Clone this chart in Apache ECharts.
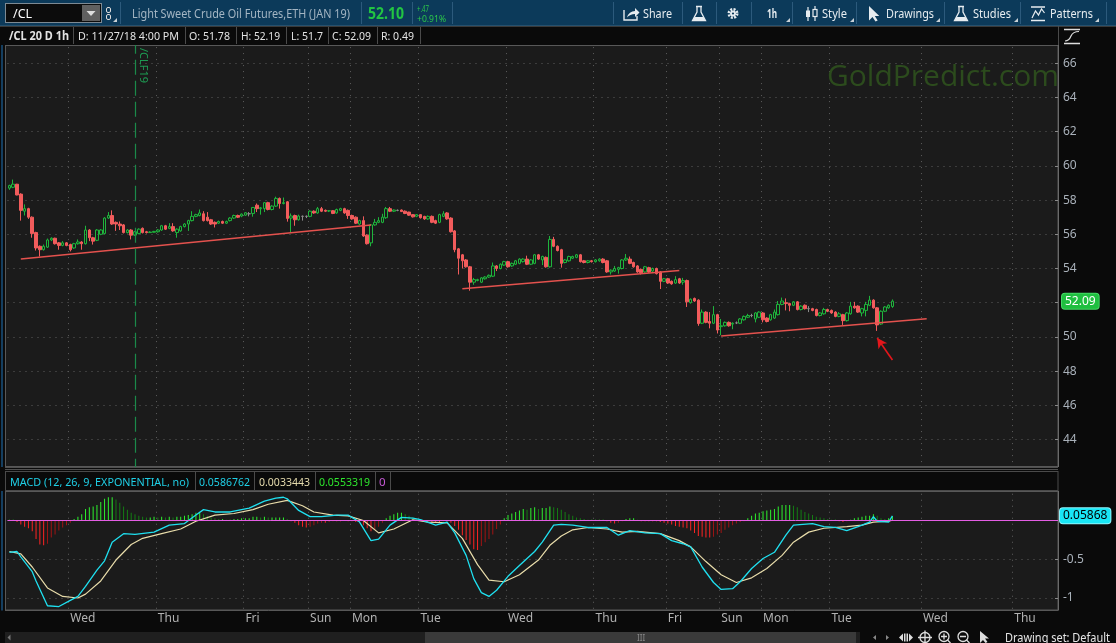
<!DOCTYPE html>
<html><head><meta charset="utf-8">
<script src="https://cdn.jsdelivr.net/npm/echarts@6/dist/echarts.min.js"></script>
<style>
html,body{margin:0;padding:0;width:1116px;height:643px;overflow:hidden;background:#0a0a0a;font-family:'Noto Sans','Open Sans',sans-serif;}
svg{position:absolute;left:0;top:0;}
#under{z-index:0;}
#chart{position:absolute;left:0;top:0;width:1116px;height:643px;z-index:1;}
#chrome{z-index:2;pointer-events:none;}
#chrome text{font-family:'Noto Sans','Open Sans',sans-serif;}
</style></head><body>
<svg id="under" width="1116" height="643">
  <rect x="0" y="0" width="1116" height="643" fill="#0a0a0a"/>
  <rect x="5.5" y="45.5" width="1052.5" height="421" fill="#1b1b1b" stroke="#585858"/>
  <rect x="5.5" y="491.5" width="1052.5" height="118.5" fill="#1b1b1b" stroke="#585858"/>
  <rect x="1" y="26" width="2" height="605" fill="#143e60"/>
</svg>
<div id="chart"></div>
<svg id="chrome" width="1116" height="643">
  <!-- toolbar -->
  <rect x="0" y="0" width="1116" height="26" fill="#0c3a5a"/>
  <rect x="0" y="25" width="1116" height="1" fill="#24506e"/>
  <rect x="5.5" y="3.5" width="96" height="19" fill="#0c0c0c" stroke="#7d8a94"/>
  <text x="13" y="17.5" fill="#ffffff" font-size="12.5">/CL</text>
  <rect x="82" y="5" width="18" height="16" fill="#606060"/>
  <path d="M86.5 11 L95.5 11 L91 16 Z" fill="#dddddd"/>
  <rect x="106.5" y="7.5" width="4" height="5" rx="1.5" fill="none" stroke="#dddddd"/>
  <rect x="106.5" y="14.5" width="4" height="5" rx="1.5" fill="none" stroke="#dddddd"/>
  <g stroke="#2c5a7c" stroke-width="1">
    <path d="M120.5 2 V24 M361.5 2 V24 M412.5 2 V24 M452.5 2 V24 M613.5 2 V24 M682.5 2 V24 M716.5 2 V24 M751.5 2 V24 M792.5 2 V24 M856.5 2 V24 M944.5 2 V24 M1020.5 2 V24 M1106.5 2 V24"/>
  </g>
  <text x="132" y="17.5" fill="#a3b5c3" font-size="12" textLength="218" lengthAdjust="spacingAndGlyphs">Light Sweet Crude Oil Futures,ETH (JAN 19)</text>
  <text x="368" y="18.5" fill="#22c443" font-size="15.5" font-weight="bold" textLength="36" lengthAdjust="spacingAndGlyphs">52.10</text>
  <text x="417" y="11.5" fill="#2cc84a" font-size="9.5" textLength="12" lengthAdjust="spacingAndGlyphs">+.47</text>
  <text x="417" y="21.5" fill="#2cc84a" font-size="9.5" textLength="29" lengthAdjust="spacingAndGlyphs">+0.91%</text>
  <g fill="#e6ecf0" stroke="none">
    <path d="M624 10 V20 H637 V16" fill="none" stroke="#e6ecf0" stroke-width="1.4"/>
    <path d="M627 17.5 Q629 11 635 11 V8 L639.5 12.5 L635 17 V14 Q630 14 627 17.5 Z"/>
    <text x="643" y="17.5" font-size="12" textLength="29" lengthAdjust="spacingAndGlyphs">Share</text>
    <path d="M696 6.5 H702 M697 6.5 V12 L692.5 20.5 H705.5 L701 12 V6.5" fill="none" stroke="#e6ecf0" stroke-width="1.3"/>
    <path d="M694.5 17 H703.5 L705 20 H693 Z"/>
    <circle cx="733" cy="13.5" r="4.2" fill="none" stroke="#e6ecf0" stroke-width="2.6" stroke-dasharray="2 1.3"/>
    <circle cx="733" cy="13.5" r="3"/>
    <circle cx="733" cy="13.5" r="1.1" fill="#0c3a5a"/>
    <text x="767" y="17.5" font-size="12" font-weight="bold" textLength="10" lengthAdjust="spacingAndGlyphs">1h</text>
    <path d="M808 7 V21 M815 6 V21" fill="none" stroke="#e6ecf0" stroke-width="1.2"/>
    <rect x="806" y="10.5" width="4" height="6.5"/>
    <rect x="813" y="9.5" width="4" height="7" fill="#0c3a5a" stroke="#e6ecf0" stroke-width="1.2"/>
    <text x="822" y="17.5" font-size="12" textLength="25" lengthAdjust="spacingAndGlyphs">Style</text>
    <path d="M869 6 L869 20.5 L872.5 17 L875.5 21.5 L877.7 20.4 L874.8 16 L879.3 16 Z"/>
    <text x="886" y="17.5" font-size="12" textLength="48" lengthAdjust="spacingAndGlyphs">Drawings</text>
    <path d="M958 6.5 H964 M959 6.5 V12 L954.5 20.5 H967.5 L963 12 V6.5" fill="none" stroke="#e6ecf0" stroke-width="1.3"/>
    <path d="M956.5 17 H965.5 L967 20 H955 Z"/>
    <text x="973" y="17.5" font-size="12" textLength="38" lengthAdjust="spacingAndGlyphs">Studies</text>
    <path d="M1031 7 H1045 M1031 20.5 H1045" fill="none" stroke="#e6ecf0" stroke-width="1.5"/>
    <path d="M1032 18 L1035.5 11 L1038.5 15 L1041.5 9 L1044.5 13" fill="none" stroke="#e6ecf0" stroke-width="1.2"/>
    <text x="1050" y="17.5" font-size="12" textLength="43" lengthAdjust="spacingAndGlyphs">Patterns</text>
    <path d="M113 22 H117 V18 Z M786 22 H790 V18 Z M850 22 H854 V18 Z M936 22 H940 V18 Z M1014 22 H1018 V18 Z M1095 22 H1099 V18 Z" fill="#c8d0d6"/>
  </g>
  <!-- info bar -->
  <rect x="0" y="26" width="1116" height="19" fill="#0a0a0a"/>
  <path d="M0 26.5 H1116" stroke="#3a3a3a"/>
  <path d="M73.5 27 V44 M185.5 27 V44 M236.5 27 V44 M286.5 27 V44 M328.5 27 V44 M377.5 27 V44 M420.5 27 V44 M1058.5 26 V45" stroke="#4a4a4a"/>
  <g fill="#e3e3e3" font-size="11.5">
    <text x="9" y="39.5" font-weight="bold" textLength="60" lengthAdjust="spacingAndGlyphs">/CL 20 D 1h</text>
    <text x="78" y="39.5" textLength="101" lengthAdjust="spacingAndGlyphs">D: 11/27/18 4:00 PM</text>
    <text x="189" y="39.5" textLength="41" lengthAdjust="spacingAndGlyphs">O: 51.78</text>
    <text x="241" y="39.5" textLength="39" lengthAdjust="spacingAndGlyphs">H: 52.19</text>
    <text x="291" y="39.5" textLength="32" lengthAdjust="spacingAndGlyphs">L: 51.7</text>
    <text x="332" y="39.5" textLength="39" lengthAdjust="spacingAndGlyphs">C: 52.09</text>
    <text x="381" y="39.5" textLength="33" lengthAdjust="spacingAndGlyphs">R: 0.49</text>
  </g>
  <path d="M1064 29.5 H1080 M1064 43.5 H1080" stroke="#dddddd" stroke-width="1.5"/>
  <path d="M1065 41 Q1069 41 1071 36 Q1073 31.5 1079 31.5" stroke="#dddddd" fill="none" stroke-width="1.2"/>
  <!-- separator + MACD header -->
  <rect x="0" y="467" width="1116" height="24" fill="#0a0a0a"/>
  <path d="M5 467.5 H1058 M5 469.5 H1058" stroke="#505050"/>
  <rect x="5.5" y="471.5" width="1052.5" height="19" fill="#0a0a0a" stroke="#4a4a4a"/>
  <path d="M195.5 472 V490 M254.5 472 V490 M315.5 472 V490 M375.5 472 V490 M390.5 472 V490" stroke="#4a4a4a"/>
  <g font-size="11.5">
    <text x="10" y="485.5" fill="#1fcfe6" textLength="179" lengthAdjust="spacingAndGlyphs">MACD (12, 26, 9, EXPONENTIAL, no)</text>
    <text x="199" y="485.5" fill="#1fcfe6" textLength="51" lengthAdjust="spacingAndGlyphs">0.0586762</text>
    <text x="259" y="485.5" fill="#e6dcae" textLength="51" lengthAdjust="spacingAndGlyphs">0.0033443</text>
    <text x="319" y="485.5" fill="#2ee82e" textLength="51" lengthAdjust="spacingAndGlyphs">0.0553319</text>
    <text x="379" y="485.5" fill="#c85ad8">0</text>
  </g>
  <!-- bottom bar -->
  <rect x="0" y="631" width="1116" height="12" fill="#0a0a0a"/>
  <rect x="5" y="632" width="855" height="11" fill="#1f1f1f"/>
  <rect x="425" y="632" width="431" height="11" fill="#3a3a3a"/>
  <text x="637" y="641" font-size="8" fill="#8a8a8a">III</text>
  <path d="M10.5 634.5 L7.5 637.5 L10.5 640.5 Z" fill="#777777"/>
  <path d="M876 635 L873 637.5 L876 640 Z M886 635 L889 637.5 L886 640 Z" fill="#888888"/>
  <g fill="#dddddd" stroke="none">
    <path d="M899 637.5 L903 633.5 V641.5 Z M913 637.5 L909 633.5 V641.5 Z"/>
    <rect x="904" y="633.5" width="1.5" height="8"/><rect x="906.5" y="633.5" width="1.5" height="8"/>
  </g>
  <g fill="none" stroke="#dddddd" stroke-width="1.3">
    <circle cx="925" cy="637.5" r="5"/><path d="M918 637.5 H932 M925 630.5 V643"/>
    <circle cx="944" cy="636.5" r="5"/><path d="M941 636.5 H947 M944 633.5 V639.5 M947.5 640 L950.5 643"/>
    <circle cx="963" cy="636.5" r="5"/><path d="M960 636.5 H966 M966.5 640 L969.5 643"/>
  </g>
  <path d="M980 631 L980 643 L983 640 L985.5 643 L987.5 642 L985 638.5 L989 638.5 Z" fill="#dddddd"/>
  <text x="1005" y="641.5" font-size="12" fill="#e6e6e6" textLength="105" lengthAdjust="spacingAndGlyphs">Drawing set: Default</text>
</svg>
<script>
// ---------- DATA ----------
// hourly candles: [open, close, low, high], slot index = position in array
const ohlc = [
[58.70,58.85,58.60,58.90],[58.75,58.93,58.70,59.20],[58.93,58.30,58.28,58.95],[58.35,57.40,56.80,58.40],[57.35,57.50,57.10,57.75],
[57.50,57.00,56.90,57.55],[57.00,56.05,55.80,57.05],[56.10,55.20,55.05,56.15],[55.30,55.10,54.70,55.35],[55.10,55.30,55.05,55.40],
[55.25,55.67,55.20,55.75],[55.67,55.77,55.60,55.82],[55.77,55.45,55.40,55.80],[55.50,55.35,55.10,55.55],[55.35,55.50,55.30,55.60],
[55.50,55.35,55.30,55.55],[55.40,55.10,55.00,55.45],[55.20,55.45,55.15,55.50],[55.45,55.55,55.40,55.70],[55.55,55.45,55.10,55.60],
[55.45,56.25,55.40,56.50],[56.25,55.80,55.60,56.30],[55.80,55.60,55.40,55.85],[55.65,56.25,55.60,56.30],[56.00,56.25,55.95,56.30],
[56.05,56.95,56.00,57.00],[56.95,57.10,56.90,57.30],[57.10,56.60,56.55,57.40],[56.70,56.60,56.20,56.75],[56.60,56.50,56.25,56.75],
[56.55,56.10,56.05,56.60],[56.10,56.25,56.05,56.30],[56.25,55.95,55.70,56.30],[55.95,56.15,55.90,56.20],[56.05,56.30,56.00,56.35],
[56.35,56.10,56.05,56.40],[56.15,56.10,56.05,56.20],[56.10,56.13,56.08,56.18],[56.12,56.17,56.10,56.20],[56.15,56.25,56.10,56.30],
[56.25,56.50,56.20,56.55],[56.50,56.30,56.25,56.55],[56.35,56.45,56.30,56.65],[56.45,56.20,56.15,56.65],[56.10,56.30,55.80,56.35],
[56.20,56.45,56.15,56.50],[56.45,56.60,56.40,56.65],[56.60,56.80,56.20,56.85],[56.80,57.05,56.75,57.35],[57.05,57.15,57.00,57.20],
[57.10,57.25,57.05,57.45],[57.20,56.80,56.75,57.35],[57.00,56.80,56.75,57.30],[56.85,56.60,56.55,56.90],[56.70,56.60,56.40,56.75],
[56.65,56.75,56.60,56.80],[56.75,56.65,56.60,56.80],[56.65,56.75,56.60,56.80],[56.80,56.95,56.75,57.00],[56.95,57.10,56.90,57.15],
[57.10,57.00,56.95,57.15],[57.07,57.18,57.00,57.22],[57.12,57.26,57.08,57.30],[57.20,57.20,57.05,57.30],[57.22,57.57,57.03,57.60],
[57.70,57.50,57.30,57.80],[57.50,57.55,57.15,57.60],[57.50,57.85,57.30,57.88],[57.85,57.45,57.40,57.90],[57.45,57.65,57.40,57.70],
[57.65,58.10,57.60,58.20],[58.10,57.80,57.50,58.15],[57.80,57.85,57.75,58.15],[57.90,56.93,56.74,57.95],[56.95,57.07,56.10,57.22],
[57.10,56.85,56.50,57.15],[56.85,57.07,56.80,57.15],[57.05,57.05,56.80,57.10],[57.05,57.05,56.95,57.10],[57.05,57.35,57.00,57.40],
[57.35,57.25,57.20,57.40],[57.25,57.50,57.20,57.60],[57.50,57.35,57.30,57.60],[57.40,57.35,57.30,57.45],[57.36,57.38,57.30,57.42],
[57.38,57.22,57.18,57.42],[57.25,57.45,57.20,57.50],[57.40,57.50,57.35,57.55],[57.50,57.25,57.20,57.55],[57.40,57.10,56.90,57.45],
[57.10,56.90,56.85,57.15],[57.00,56.65,56.60,57.05],[56.60,56.80,56.55,56.85],[56.80,55.90,55.85,57.05],[55.95,55.45,55.40,56.00],
[55.50,56.55,55.30,56.60],[56.55,56.70,56.50,56.90],[56.70,56.80,56.65,57.00],[56.70,57.00,56.65,57.20],[56.97,57.50,56.90,57.60],
[57.50,57.35,57.30,57.60],[57.35,57.42,57.30,57.45],[57.40,57.40,57.35,57.45],[57.42,57.33,57.30,57.45],[57.35,57.22,57.18,57.40],
[57.30,57.12,57.08,57.32],[57.15,57.02,56.98,57.18],[57.05,57.15,57.00,57.18],[57.15,56.97,56.92,57.18],[57.05,56.90,56.85,57.08],
[56.90,57.05,56.85,57.10],[57.05,56.70,56.65,57.10],[56.80,56.65,56.60,56.85],[56.70,57.15,56.65,57.20],[57.05,57.20,57.00,57.35],
[57.25,56.90,56.85,57.30],[56.95,56.15,56.10,57.00],[56.20,55.10,54.95,56.25],[55.15,54.60,53.65,55.20],[54.80,54.45,54.00,54.85],
[54.50,54.10,54.05,54.55],[54.10,53.20,52.70,54.15],[53.20,53.35,53.05,53.45],[53.30,53.35,53.25,53.40],[53.20,53.45,53.15,53.50],
[53.40,53.50,53.35,53.55],[53.50,53.60,53.45,53.65],[53.55,54.15,53.50,54.35],[54.15,54.00,53.85,54.20],[54.00,54.25,53.95,54.30],
[54.20,54.40,54.15,54.45],[54.40,54.10,54.05,54.45],[54.15,54.30,54.10,54.35],[54.25,54.45,54.20,54.50],[54.30,54.55,54.25,54.60],
[54.40,54.55,54.35,54.60],[54.55,54.25,54.20,54.75],[54.25,54.50,54.20,54.55],[54.30,54.80,54.25,54.85],[54.80,54.55,54.50,54.85],
[54.50,54.70,54.20,54.75],[54.65,54.10,54.05,54.70],[54.10,55.70,54.05,55.90],[55.70,55.30,55.25,55.85],[55.30,55.05,55.00,55.35],
[55.10,54.30,54.05,55.15],[54.35,54.50,54.30,54.55],[54.45,54.70,54.40,54.75],[54.60,54.70,54.55,54.75],[54.65,54.80,54.60,54.85],
[54.80,54.40,54.35,54.85],[54.45,54.35,54.30,54.50],[54.35,54.45,54.30,54.50],[54.45,54.40,54.35,54.50],[54.40,54.50,54.35,54.55],
[54.45,54.55,54.40,54.60],[54.55,54.35,54.30,54.60],[54.45,53.80,53.75,54.50],[53.80,53.90,53.65,53.95],[53.85,54.00,53.80,54.15],
[53.95,54.05,53.70,54.10],[54.00,54.50,53.95,54.55],[54.50,54.60,54.45,54.85],[54.55,54.30,54.25,54.70],[54.35,54.10,54.05,54.40],
[54.15,53.80,53.75,54.20],[53.95,53.75,53.65,54.00],[53.80,54.10,53.75,54.15],[54.05,53.80,53.75,54.10],[53.85,54.00,53.80,54.05],
[54.00,53.70,53.65,54.05],[53.80,53.25,52.80,53.85],[53.25,53.40,53.20,53.45],[53.40,53.15,53.10,53.45],[53.25,53.10,53.05,53.30],
[53.15,53.35,53.10,53.55],[53.40,53.15,53.10,53.45],[53.20,53.30,53.05,53.45],[53.30,52.05,51.75,53.35],[52.00,52.20,51.95,52.25],
[52.25,52.10,52.05,52.30],[52.15,50.78,50.65,52.20],[50.80,51.45,50.75,51.60],[51.45,50.85,50.80,51.50],[50.90,50.80,50.50,51.45],
[50.80,51.30,50.75,51.80],[51.30,50.40,50.20,51.35],[50.60,50.65,50.10,51.05],[50.65,50.85,50.60,50.90],[50.85,50.65,50.60,50.90],
[50.75,50.80,50.45,50.85],[50.82,50.82,50.75,50.90],[50.80,51.05,50.75,51.10],[51.00,51.20,50.95,51.25],[51.15,51.25,51.10,51.35],
[51.25,51.25,51.15,51.35],[51.05,51.40,50.85,51.45],[51.15,51.45,51.10,51.50],[51.40,51.00,50.85,51.45],[51.10,50.90,50.85,51.15],
[51.00,51.30,50.95,51.35],[51.10,51.45,51.05,51.60],[51.30,51.90,51.25,52.10],[51.90,52.10,51.85,52.30],[52.00,51.95,51.55,52.25],
[51.95,51.85,51.50,52.00],[51.85,52.05,51.80,52.10],[52.05,51.60,51.55,52.10],[51.60,51.80,51.55,51.85],[51.85,51.65,51.60,51.90],
[51.65,51.65,51.45,51.80],[51.65,51.55,51.50,51.70],[51.60,51.25,51.20,51.65],[51.25,51.40,51.20,51.45],[51.35,51.60,51.30,51.70],
[51.60,51.50,51.45,51.65],[51.55,51.40,51.35,51.60],[51.45,51.20,51.15,51.50],[51.20,51.35,51.15,51.45],[51.30,50.95,50.70,51.35],
[50.95,51.40,50.90,51.45],[51.35,51.80,51.30,52.05],[51.80,51.70,51.65,52.05],[51.80,51.45,51.40,51.85],[51.40,51.65,51.20,51.70],
[51.55,51.90,51.20,52.05],[51.85,52.15,51.80,52.40],[52.15,51.70,51.65,52.20],[51.70,50.70,50.35,51.75],[50.75,51.50,50.70,51.55],
[51.50,51.75,51.45,51.80],[51.70,51.85,51.65,51.90],[51.78,52.09,51.70,52.19]
];
// MACD histogram (Diff) per candle
const macdHist = [
 0.01, 0.01,-0.02,-0.05,-0.08,-0.10,-0.14,-0.24,-0.31,-0.32,
-0.30,-0.22,-0.18,-0.13,-0.09,-0.06,-0.03, 0.02, 0.05, 0.08,
 0.15, 0.17, 0.18, 0.20, 0.24, 0.28, 0.30, 0.30, 0.27, 0.23,
 0.18, 0.14, 0.10, 0.08, 0.06, 0.05, 0.04, 0.04, 0.05, 0.04,
 0.05, 0.04, 0.05, 0.04, 0.05, 0.05, 0.06, 0.07, 0.08, 0.10,
 0.10, 0.08, 0.06, 0.04, 0.03, 0.02, 0.02, 0.01, 0.01, 0.02,
 0.02, 0.03, 0.03, 0.03, 0.05, 0.05, 0.04, 0.05, 0.04, 0.04,
 0.04, 0.04, 0.04, 0.02,-0.01,-0.03,-0.06,-0.08,-0.09,-0.08,
-0.06,-0.04,-0.03,-0.03,-0.02,-0.01,-0.01,-0.01, 0.00,-0.01,
-0.01,-0.02,-0.03,-0.06,-0.10,-0.14,-0.12,-0.08,-0.03, 0.03,
 0.06, 0.08, 0.10, 0.10, 0.08, 0.06, 0.04, 0.02, 0.01,-0.01,
-0.01,-0.02,-0.02,-0.02,-0.01,-0.01,-0.03,-0.07,-0.12,-0.19,
-0.25,-0.31,-0.37,-0.38,-0.33,-0.28,-0.24,-0.18,-0.11,-0.05,
 0.03, 0.07, 0.09, 0.11, 0.13, 0.15, 0.14, 0.16, 0.17, 0.15,
 0.16, 0.16, 0.18, 0.17, 0.16, 0.14, 0.11, 0.08, 0.06, 0.04,
 0.03, 0.02, 0.01, 0.01, 0.01, 0.01, 0.01,-0.01,-0.03,-0.04,
-0.03,-0.01, 0.02, 0.03, 0.03, 0.01,-0.01,-0.01,-0.01,-0.01,
-0.01,-0.02,-0.03,-0.04,-0.05,-0.07,-0.08,-0.09,-0.10,-0.13,
-0.16,-0.20,-0.21,-0.22,-0.22,-0.21,-0.18,-0.16,-0.12,-0.09,
-0.06,-0.04,-0.02,-0.01, 0.03, 0.06, 0.09, 0.10, 0.12, 0.13,
 0.14, 0.15, 0.18, 0.20, 0.20, 0.20, 0.19, 0.17, 0.14, 0.11,
 0.09, 0.07, 0.05, 0.04, 0.03, 0.02, 0.01, 0.01,-0.01,-0.02,
-0.01, 0.01, 0.03, 0.04, 0.05, 0.06, 0.06, 0.08, 0.06, 0.03,
 0.02, 0.03, 0.055
];
// MACD value line, read at [slot, value]
const macdLine = [[0,-0.41],[2,-0.40],[3,-0.47],[6,-0.66],[7,-0.78],[10,-1.10],[13,-1.11],[16,-1.03],[18,-0.98],[20,-0.85],[23,-0.64],[25,-0.52],[27,-0.28],[30,-0.17],[33,-0.18],[38,-0.15],[42,-0.06],[46,-0.04],[49,0.07],[51,0.14],[54,0.11],[58,0.11],[63,0.16],[67,0.25],[70,0.29],[72,0.30],[73,0.28],[76,0.13],[79,0.05],[82,0.05],[86,0.07],[89,0.07],[92,-0.02],[95,-0.26],[97,-0.24],[100,-0.06],[103,0.04],[106,0.03],[108,0.01],[112,-0.06],[115,-0.02],[117,-0.16],[120,-0.45],[122,-0.75],[124,-0.93],[126,-0.98],[128,-0.90],[131,-0.72],[134,-0.58],[138,-0.40],[140,-0.28],[143,-0.06],[145,-0.05],[148,-0.06],[152,-0.09],[157,-0.09],[160,-0.19],[163,-0.13],[167,-0.16],[171,-0.17],[174,-0.26],[177,-0.30],[179,-0.34],[182,-0.60],[185,-0.80],[187,-0.89],[190,-0.88],[192,-0.79],[195,-0.62],[198,-0.49],[201,-0.41],[204,-0.19],[206,-0.06],[211,-0.04],[214,-0.08],[217,-0.09],[220,-0.13],[223,-0.08],[226,-0.02],[227,0.05],[228,-0.01],[231,-0.02],[232,0.0587]];
// MACD average (signal) line
const macdAvg = [[0,-0.40],[3,-0.43],[6,-0.60],[10,-0.87],[14,-0.98],[18,-1.00],[20,-0.95],[24,-0.78],[28,-0.51],[32,-0.31],[35,-0.23],[40,-0.17],[45,-0.11],[49,-0.01],[54,0.07],[59,0.09],[64,0.14],[68,0.21],[73,0.26],[77,0.19],[80,0.11],[85,0.07],[89,0.06],[93,0.00],[97,-0.16],[101,-0.11],[106,0.01],[110,-0.02],[115,-0.03],[119,-0.23],[123,-0.57],[126,-0.77],[130,-0.79],[134,-0.70],[139,-0.51],[142,-0.32],[145,-0.20],[148,-0.12],[152,-0.09],[157,-0.11],[161,-0.15],[165,-0.14],[171,-0.17],[176,-0.26],[179,-0.34],[183,-0.53],[187,-0.70],[191,-0.80],[195,-0.74],[199,-0.62],[203,-0.45],[206,-0.28],[210,-0.15],[214,-0.10],[220,-0.08],[224,-0.06],[227,-0.02],[231,-0.01],[232,0.0033]];
// session (day) starts on the hourly slot axis
const sessionIdx   = [16,39,62,79,90,108,131,154,173,187,198,216,240,264];
const sessionNames = ['Wed','Thu','Fri','Sun','Mon','Tue','Wed','Thu','Fri','Sun','Mon','Tue','Wed','Thu'];
const slotCount = 276;
// drawn support lines: [[slot, price],[slot, price]]
const trendLines = [[[3,54.56],[95,56.54]],[[119,52.81],[176,53.88]],[[187,50.05],[241,51.06]]];
const arrowLine = [[232,48.65],[228,49.94]];
const expirySlot = 33, expiryLabel = '/CLF19';
const lastClose = 52.09, lastMacd = 0.05868;
const priceMin = 42, priceMax = 68, priceStep = 2;
const macdMin = -1.5, macdMax = 0.5, macdStep = 0.5;

// ---------- CHART ----------
const chart = echarts.init(document.getElementById('chart'), null, {renderer:'canvas'});
const slots = Array.from({length: slotCount}, (_, i) => String(i));
const sessionMap = new Map(sessionIdx.map((v, k) => [v, sessionNames[k]]));
const isSession = (i) => sessionMap.has(i);
const dotted = {color:'#5e5e5e', width:1, type:[1,5]};
const FONT = 'Noto Sans';
const HIDDEN_LINE = {color:'rgba(0,0,0,0)', width:1, type:'solid'};

const histData = macdHist.map((v, i) => {
  const p = i > 0 ? macdHist[i-1] : v;
  let c;
  if (v >= 0) c = v >= p ? '#2ef02e' : '#147d14';
  else c = v <= p ? '#ff2424' : '#a01414';
  return {value: v, itemStyle: {color: c}};
});

const gridBase = {left: 7.5, width: 1050.5, outerBoundsMode: 'none', containLabel: false};
function slotAxis(gi, labels) {
  return {
    type:'category', gridIndex: gi, data: slots, boundaryGap: true,
    axisLine:{show:false}, axisTick:{show:false},
    axisLabel: labels ? {show:true, interval:(i)=>isSession(i), formatter:(v)=>sessionMap.get(Number(v)) || '',
                         color:'#b2b2b2', fontSize:12, fontFamily:FONT, align:'left', margin:3} : {show:false},
    splitLine: labels ? {show:false} : {show:true, interval:(i)=>isSession(i), lineStyle: dotted},
    z: labels ? 110 : 0
  };
}

const trendData = trendLines.map(t => [
  {coord: t[0], symbol:'none', lineStyle:{color:'#e4524e', width:1.5, type:'solid'}, label:{show:false}},
  {coord: t[1], symbol:'none'}
]);

chart.setOption({
  animation: false,
  textStyle: {fontFamily: FONT},
  grid: [
    Object.assign({top: 29.1, height: 444.6}, gridBase),
    Object.assign({top: 481.75, height: 155}, gridBase),
    Object.assign({top: 608, height: 2}, gridBase)
  ],
  xAxis: [slotAxis(0,false), slotAxis(1,false), slotAxis(2,true)],
  yAxis: [
    {type:'value', gridIndex:0, position:'right', min:priceMin, max:priceMax, interval:priceStep,
     axisLine:{show:true, lineStyle:{color:'#6a6a6a'}}, axisTick:{show:true, inside:true, length:3, lineStyle:{color:'#8a8a8a'}},
     axisLabel:{color:'#a9b1ba', fontSize:12, margin:5, fontFamily:FONT}, splitLine:{show:true, lineStyle:dotted}},
    {type:'value', gridIndex:1, position:'right', min:macdMin, max:macdMax, interval:macdStep,
     axisLine:{show:true, lineStyle:{color:'#6a6a6a'}}, axisTick:{show:true, inside:true, length:3, lineStyle:{color:'#8a8a8a'}},
     axisLabel:{color:'#a9b1ba', fontSize:12, margin:5, fontFamily:FONT, formatter:(v)=> String(Math.round(v*10)/10)},
     splitLine:{show:true, lineStyle:dotted}},
    {type:'value', gridIndex:2, show:false}
  ],
  series: [
    {
      type:'candlestick', xAxisIndex:0, yAxisIndex:0, barWidth:3,
      data: ohlc,
      itemStyle:{color:'rgba(0,0,0,0)', color0:'#f25c5c', borderColor:'#1eb53c', borderColor0:'#f25c5c', borderColorDoji:'#8c8c8c', borderWidth:1},
      silent: true,
      markLine: {
        silent:true, symbol:['none','none'], animation:false,
        data: [
          ...trendData,
          [{coord: arrowLine[0], symbol:'none', lineStyle:{color:'#e4161b', width:1.6, type:'solid'}, label:{show:false}},
           {coord: arrowLine[1], symbol:'arrow', symbolSize:[8,10]}],
          {xAxis: expirySlot, lineStyle:{color:'#1b8a4a', width:1.2, type:[15,6]}, label:{show:false}}
        ]
      }
    },
    {
      type:'bar', xAxisIndex:1, yAxisIndex:1, barWidth:1, data: histData, silent:true,
      markLine: {silent:true, symbol:['none','none'], animation:false,
        data:[{yAxis:0, lineStyle:{color:'#e35de3', width:1, type:'solid'}, label:{show:false}}]}
    },
    {
      type:'line', xAxisIndex:1, yAxisIndex:1, data: macdAvg, showSymbol:false, silent:true,
      lineStyle:{color:'#e8dcaa', width:1.2}, z:3
    },
    {
      type:'line', xAxisIndex:1, yAxisIndex:1, data: macdLine, showSymbol:false, silent:true,
      lineStyle:{color:'#1fe0f0', width:1.3}, z:4
    },
    // last-value flags on the right axis (invisible lines carrying the labels)
    {
      type:'line', xAxisIndex:0, yAxisIndex:0, data: [], silent:true, z:20, clip:false,
      markLine: {silent:true, symbol:['none','none'], animation:false,
        data:[{yAxis: lastClose, lineStyle: HIDDEN_LINE, label:{show:true, position:'end', distance:4, formatter: lastClose.toFixed(2),
            color:'#ffffff', backgroundColor:'#1fbf40', borderColor:'#45d865', borderWidth:1, borderRadius:3, padding:[2,3,1,3], fontSize:12, fontFamily:FONT}}]}
    },
    {
      type:'line', xAxisIndex:1, yAxisIndex:1, data: [], silent:true, z:20, clip:false,
      markLine: {silent:true, symbol:['none','none'], animation:false,
        data:[{yAxis:lastMacd, lineStyle: HIDDEN_LINE, label:{show:true, position:'end', distance:2, formatter: lastMacd.toFixed(5),
          color:'#000000', backgroundColor:'#19e6f5', borderColor:'#8ff4fb', borderWidth:1, borderRadius:3, padding:[2,3,1,3], fontSize:12, fontFamily:FONT}}]}
    }
  ]
});

const ep = chart.convertToPixel({xAxisIndex:0, yAxisIndex:0}, [expirySlot, 66.9]);
chart.setOption({
  graphic: {elements: [
    {type:'text', x:1059, y:77, z:1, silent:true,
     style:{text:'GoldPredict.com', fill:'#2c4b1d', font:'30px "Open Sans"', align:'right', verticalAlign:'middle'}},
    {type:'text', x: ep[0] + 3, y: ep[1], rotation: -Math.PI/2, z:5, silent:true,
     style:{text: expiryLabel, fill:'#1e9a52', font:'11px "Noto Sans"', align:'left', verticalAlign:'bottom'}},
    {type:'rect', shape:{x:0, y:610.5, width:1116, height:20.5}, z:100, silent:true, style:{fill:'#0a0a0a'}},
    {type:'line', shape:{x1:5, y1:610.5, x2:1058, y2:610.5}, z:101, silent:true, style:{stroke:'#585858', lineWidth:1}}
  ]}
});
</script>
</body></html>
